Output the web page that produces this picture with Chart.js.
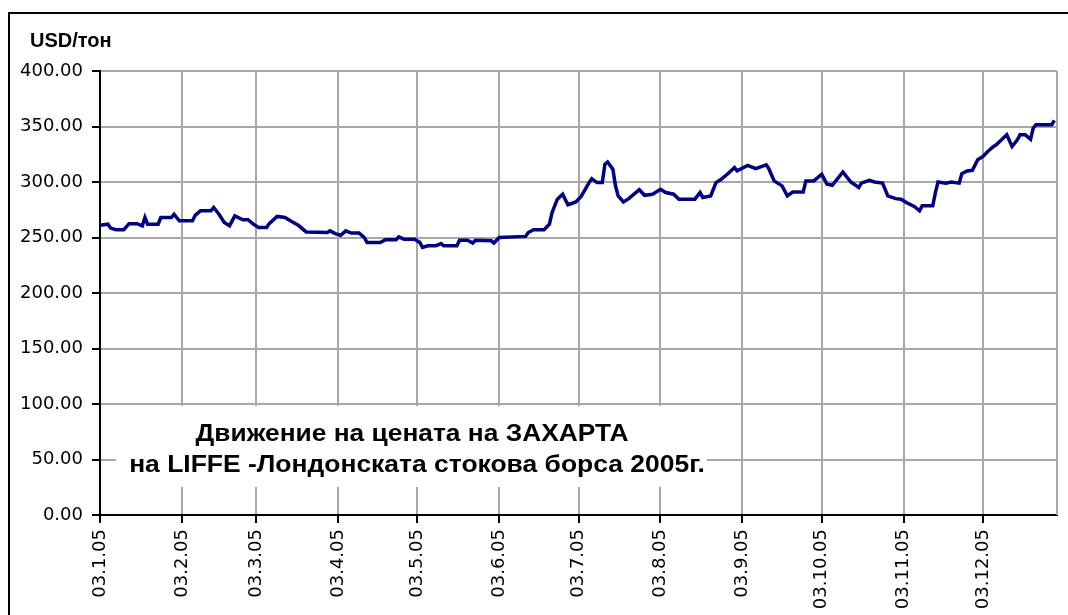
<!DOCTYPE html>
<html>
<head>
<meta charset="utf-8">
<script src="https://cdn.jsdelivr.net/npm/chart.js@4.4.0/dist/chart.umd.min.js"></script>
<style>
  html, body { margin: 0; padding: 0; background: #fff; }
  #wrap { position: absolute; left: 0; top: 0; width: 1068px; height: 615px; }
</style>
</head>
<body>
<div id="wrap"><canvas id="chart"></canvas></div>
<script>
// days counted from 03.01.2005 (day 0)
const days = [
    0, 3, 4, 6, 9, 11, 14, 16, 17, 18, 22, 23, 27, 28, 30, 35, 36, 38, 42, 43,
    45, 47, 49, 51, 54, 56, 58, 60, 63, 64, 67, 70, 72, 75, 78, 86, 87, 89, 91, 93,
    95, 98, 100, 101, 106, 108, 112, 113, 115, 119, 121, 122, 124, 127, 129, 130, 135, 136, 139, 141,
    142, 148, 149, 151, 161, 162, 164, 168, 170, 171, 173, 175, 177, 180, 182, 185, 186, 188, 190, 191,
    192, 194, 195, 196, 198, 200, 202, 204, 206, 209, 212, 214, 217, 219, 225, 227, 228, 231, 233, 235,
    238, 240, 241, 245, 248, 252, 253, 255, 258, 260, 262, 266, 267, 270, 273, 275, 277, 281, 284, 287,
    288, 291, 293, 296, 298, 301, 303, 305, 308, 310, 311, 315, 316, 317, 320, 322, 325, 326, 328, 330,
    332, 334, 336, 338, 339, 341, 343, 345, 347, 348, 350, 352, 353, 354, 360, 361
];
const prices = [
    261, 262, 258.5, 257, 257, 262.5, 262.5, 260.5, 268, 262, 262, 268, 268, 271, 265, 265, 270, 274, 274, 277,
    271, 263.5, 260.5, 269.5, 266, 266, 262, 259, 259, 262.5, 269, 268, 265, 261, 255, 254.5, 256, 253.5, 252, 256,
    254, 254, 250, 245.5, 245.5, 248, 248, 250.5, 248.5, 248.5, 245.5, 241, 242.5, 242.5, 244.5, 242.5, 242.5, 247.5, 247.5, 245,
    247.5, 247, 245, 250, 251, 254.5, 257, 257, 262, 272.5, 284.5, 289, 279.5, 282, 287, 299.5, 303, 299.5, 299.5, 316,
    318, 311.5, 296.5, 287.5, 282, 285, 289, 293, 288, 289, 293.5, 290.5, 289, 284.5, 284.5, 290.5, 286, 287.5, 299.5, 302.5,
    308.5, 313, 310, 315, 312, 315.5, 312, 301, 296.5, 287.5, 291, 291, 301, 301, 307, 298, 297, 309, 300, 295,
    299, 301.5, 300, 299, 287.5, 285, 284.5, 281.5, 278, 274, 278.5, 278.5, 290.5, 300, 299, 300, 299, 307.5, 310, 310.5,
    320, 323, 328, 332, 333.5, 338, 342.5, 332, 338, 342.5, 342.5, 338.5, 348.5, 351.5, 351.5, 355.5
];

const tickDays = [0, 31, 59, 90, 120, 151, 181, 212, 243, 273, 304, 334];
const tickLabels = ["03.1.05", "03.2.05", "03.3.05", "03.4.05", "03.5.05", "03.6.05",
    "03.7.05", "03.8.05", "03.9.05", "03.10.05", "03.11.05", "03.12.05"];
const lastDay = 362;

const yTitle = "USD/тон";
const boxLines = ["Движение на цената на ЗАХАРТА", "на LIFFE -Лондонската стокова борса 2005г."];

// frame, y-axis caption, right plot edge and the caption box
const decorations = {
    id: "decorations",
    beforeDraw(chart) {
        const ctx = chart.ctx;
        ctx.save();
        ctx.fillStyle = "#fff";
        ctx.fillRect(0, 0, chart.width, chart.height);
        ctx.strokeStyle = "#000";
        ctx.lineWidth = 2;
        ctx.strokeRect(9, 13, chart.width + 20, chart.height + 20);
        ctx.fillStyle = "#000";
        ctx.font = "bold 20px 'Liberation Sans', Arial, sans-serif";
        ctx.textBaseline = "alphabetic";
        ctx.fillText(yTitle, 30, 47);
        ctx.restore();
    },
    beforeDatasetsDraw(chart) {
        const ctx = chart.ctx;
        const area = chart.chartArea;
        ctx.save();
        ctx.strokeStyle = "#a8a8a8";
        ctx.lineWidth = 2;
        ctx.beginPath();
        ctx.moveTo(area.right, area.top);
        ctx.lineTo(area.right, area.bottom);
        ctx.stroke();
        // white caption box over the grid
        ctx.fillStyle = "#fff";
        ctx.fillRect(116, 406, 591, 81);
        ctx.fillStyle = "#000";
        ctx.font = "bold 23px 'Liberation Sans', Arial, sans-serif";
        ctx.textAlign = "center";
        ctx.textBaseline = "alphabetic";
        // slightly wider lettering, as in the original
        ctx.save();
        ctx.translate(412, 441);
        ctx.scale(1.145, 1);
        ctx.fillText(boxLines[0], 0, 0);
        ctx.restore();
        ctx.save();
        ctx.translate(417, 472);
        ctx.scale(1.15, 1);
        ctx.fillText(boxLines[1], 0, 0);
        ctx.restore();
        ctx.restore();
    }
};

const ctx = document.getElementById("chart").getContext("2d");
const chart = new Chart(ctx, {
    type: "line",
    data: {
        datasets: [{
            data: days.map((d, i) => ({ x: d, y: prices[i] })),
            borderColor: "#000080",
            borderWidth: 3.5,
            pointRadius: 0,
            fill: false,
            tension: 0,
        }],
    },
    options: {
        responsive: true,
        maintainAspectRatio: false,
        animation: false,
        layout: { padding: { top: 71, right: 11, left: 0, bottom: 0 } },
        scales: {
            x: {
                type: "linear",
                min: 0,
                max: lastDay,
                afterBuildTicks: (scale) => {
                    scale.ticks = tickDays.map(v => ({ value: v }));
                },
                afterFit: (scale) => { scale.height = 100; },
                grid: {
                    color: "#a8a8a8",
                    lineWidth: 2,
                    tickLength: 8,
                    tickColor: "#000",
                },
                border: { color: "#000", width: 2 },
                ticks: {
                    autoSkip: false,
                    minRotation: 90,
                    maxRotation: 90,
                    padding: 6,
                    color: "#000",
                    font: { family: "'DejaVu Sans', sans-serif", size: 18 },
                    callback: (v) => tickLabels[tickDays.indexOf(v)],
                },
            },
            y: {
                min: 0,
                max: 400,
                afterFit: (scale) => { scale.width = 100; },
                grid: {
                    color: "#a8a8a8",
                    lineWidth: 2,
                    tickLength: 8,
                    tickColor: "#000",
                },
                border: { color: "#000", width: 2 },
                ticks: {
                    stepSize: 50,
                    padding: 9,
                    color: "#000",
                    font: { family: "'DejaVu Sans', sans-serif", size: 18 },
                    callback: (v) => v.toFixed(2),
                },
            },
        },
        plugins: {
            legend: { display: false },
            tooltip: { enabled: false },
        },
    },
    plugins: [decorations],
});
</script>
</body>
</html>
